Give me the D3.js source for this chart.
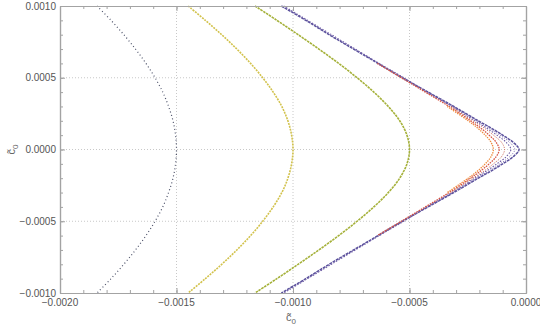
<!DOCTYPE html>
<html>
<head>
<meta charset="utf-8">
<script src="https://cdnjs.cloudflare.com/ajax/libs/d3/7.8.5/d3.min.js"></script>
<style>
  body { margin: 0; background: #fff; }
  svg { display: block; font-family: "Liberation Sans", Arial, sans-serif; }
</style>
</head>
<body>
<div id="chart"></div>
<script>

// values, [c0, c1]
var curveA = [
  [-0.001841, 0.0010], [-0.001781, 0.0009], [-0.001726, 0.0008], [-0.001676, 0.0007],
  [-0.001631, 0.0006], [-0.001592, 0.0005], [-0.001559, 0.0004], [-0.001534, 0.0003],
  [-0.001515, 0.0002], [-0.001504, 0.0001], [-0.001500, 0.0000], [-0.001504, -0.0001],
  [-0.001515, -0.0002], [-0.001534, -0.0003], [-0.001559, -0.0004], [-0.001592, -0.0005],
  [-0.001631, -0.0006], [-0.001676, -0.0007], [-0.001726, -0.0008], [-0.001781, -0.0009],
  [-0.001841, -0.0010]
];

var curveB = [
  [-0.001450, 0.0010], [-0.001376, 0.0009], [-0.001306, 0.0008], [-0.001241, 0.0007],
  [-0.001182, 0.0006], [-0.001130, 0.0005], [-0.001085, 0.0004], [-0.001048, 0.0003],
  [-0.001022, 0.0002], [-0.001006, 0.0001], [-0.001000, 0.0000], [-0.001006, -0.0001],
  [-0.001022, -0.0002], [-0.001048, -0.0003], [-0.001085, -0.0004], [-0.001130, -0.0005],
  [-0.001182, -0.0006], [-0.001241, -0.0007], [-0.001306, -0.0008], [-0.001376, -0.0009],
  [-0.001450, -0.0010]
];

var curveC = [
  [-0.001163, 0.0010], [-0.001069, 0.0009], [-0.000978, 0.0008], [-0.000889, 0.0007],
  [-0.000804, 0.0006], [-0.000725, 0.0005], [-0.000653, 0.0004], [-0.000591, 0.0003],
  [-0.000542, 0.0002], [-0.000511, 0.0001], [-0.000500, 0.0000], [-0.000511, -0.0001],
  [-0.000542, -0.0002], [-0.000591, -0.0003], [-0.000653, -0.0004], [-0.000725, -0.0005],
  [-0.000804, -0.0006], [-0.000889, -0.0007], [-0.000978, -0.0008], [-0.001069, -0.0009],
  [-0.001163, -0.0010]
];

var curveDOuter = [
  [-0.001050, 0.0010], [-0.000945, 0.0009], [-0.000845, 0.0008], [-0.000740, 0.0007],
  [-0.000635, 0.0006], [-0.000530, 0.0005], [-0.000420, 0.0004], [-0.000310, 0.0003],
  [-0.000205, 0.0002], [-0.000150, 0.00015], [-0.000100, 0.0001], [-0.000055, 0.00005],
  [-0.000030, 0.0000], [-0.000055, -0.00005], [-0.000100, -0.0001], [-0.000150, -0.00015],
  [-0.000205, -0.0002], [-0.000310, -0.0003], [-0.000420, -0.0004], [-0.000530, -0.0005],
  [-0.000635, -0.0006], [-0.000740, -0.0007], [-0.000845, -0.0008], [-0.000945, -0.0009],
  [-0.001050, -0.0010]
];

var curveDMid = [
  [-0.000640, 0.0006], [-0.000428, 0.0004], [-0.000315, 0.0003], [-0.000212, 0.0002],
  [-0.000160, 0.00015], [-0.000112, 0.0001], [-0.000070, 0.00005], [-0.000048, 0.0000],
  [-0.000070, -0.00005], [-0.000112, -0.0001], [-0.000160, -0.00015], [-0.000212, -0.0002],
  [-0.000315, -0.0003], [-0.000428, -0.0004], [-0.000640, -0.0006]
];

var curveDInner = [
  [-0.001040, 0.0010], [-0.000835, 0.0008], [-0.000630, 0.0006], [-0.000525, 0.0005],
  [-0.000425, 0.0004], [-0.000318, 0.0003], [-0.000220, 0.0002], [-0.000170, 0.00015],
  [-0.000125, 0.0001], [-0.000085, 0.00005], [-0.000065, 0.0000], [-0.000085, -0.00005],
  [-0.000125, -0.0001], [-0.000170, -0.00015], [-0.000220, -0.0002], [-0.000318, -0.0003],
  [-0.000425, -0.0004], [-0.000525, -0.0005], [-0.000630, -0.0006], [-0.000835, -0.0008],
  [-0.001040, -0.0010]
];

var curveDRed = [
  [-0.000638, 0.0006], [-0.000535, 0.0005], [-0.000432, 0.0004], [-0.000330, 0.0003],
  [-0.000238, 0.0002], [-0.000195, 0.00015], [-0.000158, 0.0001], [-0.000128, 0.00005],
  [-0.000115, 0.0000], [-0.000128, -0.00005], [-0.000158, -0.0001], [-0.000195, -0.00015],
  [-0.000238, -0.0002], [-0.000330, -0.0003], [-0.000432, -0.0004], [-0.000535, -0.0005],
  [-0.000638, -0.0006]
];

var curveDRed2 = [
  [-0.000322, 0.0003], [-0.000228, 0.0002], [-0.000180, 0.00015], [-0.000140, 0.0001],
  [-0.000105, 0.00005], [-0.000092, 0.0000], [-0.000105, -0.00005], [-0.000140, -0.0001],
  [-0.000180, -0.00015], [-0.000228, -0.0002], [-0.000322, -0.0003]
];

var curveDOrange = [
  [-0.000338, 0.0003], [-0.000248, 0.0002], [-0.000208, 0.00015], [-0.000175, 0.0001],
  [-0.000150, 0.00005], [-0.000140, 0.0000], [-0.000150, -0.00005], [-0.000175, -0.0001],
  [-0.000208, -0.00015], [-0.000248, -0.0002], [-0.000338, -0.0003]
];

var xTicks = [-0.0020, -0.0015, -0.0010, -0.0005, 0.0000];
var yTicks = [-0.0010, -0.0005, 0.0000, 0.0005, 0.0010];
var minorStep = 0.0001;

var series = [
  { data: curveA, color: '#4b5068', width: 1.2, dash: '1,2.6' },
  { data: curveB, color: '#d2c24c', width: 1.6, dash: '2,1' },
  { data: curveC, color: '#a5b13a', width: 1.6, dash: '2.5,0.8' },
  { data: curveDOuter, color: '#5a519c', width: 1.5, dash: '3,0.8' },
  { data: curveDMid, color: '#7a68b0', width: 1.0, dash: '1,1.5' },
  { data: curveDInner, color: '#6c5aa4', width: 1.1, dash: '1.5,1.5' },
  { data: curveDRed, color: '#d65443', width: 1.3, dash: '1.6,1' },
  { data: curveDRed2, color: '#c8604e', width: 1.0, dash: '1,1.4' },
  { data: curveDOrange, color: '#ef8b3e', width: 1.3, dash: '1.4,1' }
];

var margin = {top: 6, right: 14, bottom: 33, left: 60},
    width = 540,
    height = 326,
    innerW = width - margin.left - margin.right,
    innerH = height - margin.top - margin.bottom;

var xScale = d3.scaleLinear().domain([-0.002, 0]).range([0, innerW]);
var yScale = d3.scaleLinear().domain([-0.001, 0.001]).range([innerH, 0]);

var svg = d3.select('#chart').append('svg')
    .attr('width', width)
    .attr('height', height);

var g = svg.append('g')
    .attr('transform', 'translate(' + margin.left + ',' + margin.top + ')');

// dotted grid
g.append('g').selectAll('line')
    .data(xTicks.slice(1, -1))
    .enter().append('line')
    .attr('x1', function (d) { return xScale(d); })
    .attr('x2', function (d) { return xScale(d); })
    .attr('y1', 0).attr('y2', innerH)
    .style('stroke', '#c8c8c8').style('stroke-dasharray', '1,2');

g.append('g').selectAll('line')
    .data(yTicks.slice(1, -1))
    .enter().append('line')
    .attr('y1', function (d) { return yScale(d); })
    .attr('y2', function (d) { return yScale(d); })
    .attr('x1', 0).attr('x2', innerW)
    .style('stroke', '#c8c8c8').style('stroke-dasharray', '1,2');

// curves
var line = d3.line()
    .x(function (d) { return xScale(d[0]); })
    .y(function (d) { return yScale(d[1]); })
    .curve(d3.curveCatmullRom);

g.selectAll('.curve')
    .data(series)
    .enter().append('path')
    .attr('class', 'curve')
    .attr('d', function (d) { return line(d.data); })
    .style('fill', 'none')
    .style('stroke', function (d) { return d.color; })
    .style('stroke-width', function (d) { return d.width; })
    .style('stroke-dasharray', function (d) { return d.dash; });

// frame axes with inward ticks
var xMinor = d3.range(-0.002, 0.00001, minorStep);
var yMinor = d3.range(-0.001, 0.00101, minorStep);
var fmt = d3.format('.4f');
var axisColor = '#a3a3a3';

g.append('g').attr('class', 'x axis')
    .attr('transform', 'translate(0,' + innerH + ')')
    .call(d3.axisTop(xScale).tickValues(xMinor).tickSize(3).tickFormat('').tickSizeOuter(0));
g.append('g').attr('class', 'x axis major')
    .attr('transform', 'translate(0,' + innerH + ')')
    .call(d3.axisTop(xScale).tickValues(xTicks).tickSize(5).tickFormat('').tickSizeOuter(0));
g.append('g').attr('class', 'x axis top')
    .call(d3.axisBottom(xScale).tickValues(xMinor).tickSize(3).tickFormat('').tickSizeOuter(0));
g.append('g').attr('class', 'x axis top major')
    .call(d3.axisBottom(xScale).tickValues(xTicks).tickSize(5).tickFormat('').tickSizeOuter(0));

g.append('g').attr('class', 'y axis')
    .call(d3.axisRight(yScale).tickValues(yMinor).tickSize(3).tickFormat('').tickSizeOuter(0));
g.append('g').attr('class', 'y axis major')
    .call(d3.axisRight(yScale).tickValues(yTicks).tickSize(5).tickFormat('').tickSizeOuter(0));
g.append('g').attr('class', 'y axis right')
    .attr('transform', 'translate(' + innerW + ',0)')
    .call(d3.axisLeft(yScale).tickValues(yMinor).tickSize(3).tickFormat('').tickSizeOuter(0));
g.append('g').attr('class', 'y axis right major')
    .attr('transform', 'translate(' + innerW + ',0)')
    .call(d3.axisLeft(yScale).tickValues(yTicks).tickSize(5).tickFormat('').tickSizeOuter(0));

g.selectAll('.axis path').style('stroke', axisColor).style('stroke-width', 1.2);
g.selectAll('.axis line').style('stroke', axisColor);

// tick labels
g.append('g').selectAll('text')
    .data(xTicks)
    .enter().append('text')
    .attr('x', function (d) { return xScale(d); })
    .attr('y', innerH + 13)
    .attr('text-anchor', 'middle')
    .style('font-size', '10px')
    .style('fill', '#555')
    .text(function (d) { return fmt(d); });

g.append('g').selectAll('text')
    .data(yTicks)
    .enter().append('text')
    .attr('x', -4)
    .attr('y', function (d) { return yScale(d); })
    .attr('dy', '0.35em')
    .attr('text-anchor', 'end')
    .style('font-size', '10px')
    .style('fill', '#555')
    .text(function (d) { return fmt(d); });

// axis titles
var xl = svg.append('text')
    .attr('x', margin.left + xScale(-0.001) - 2)
    .attr('y', 321)
    .attr('text-anchor', 'middle')
    .style('font-size', '11px')
    .style('fill', '#666');
xl.append('tspan').text('c\u0303');
xl.append('tspan').attr('dy', 3).style('font-size', '8px').text('0');

var yl = svg.append('text')
    .attr('transform', 'translate(15,' + (margin.top + yScale(0)) + ') rotate(-90)')
    .attr('text-anchor', 'middle')
    .style('font-size', '11px')
    .style('fill', '#666');
yl.append('tspan').text('c\u0303');
yl.append('tspan').attr('dy', 3).style('font-size', '8px').text('0');

</script>
</body>
</html>
